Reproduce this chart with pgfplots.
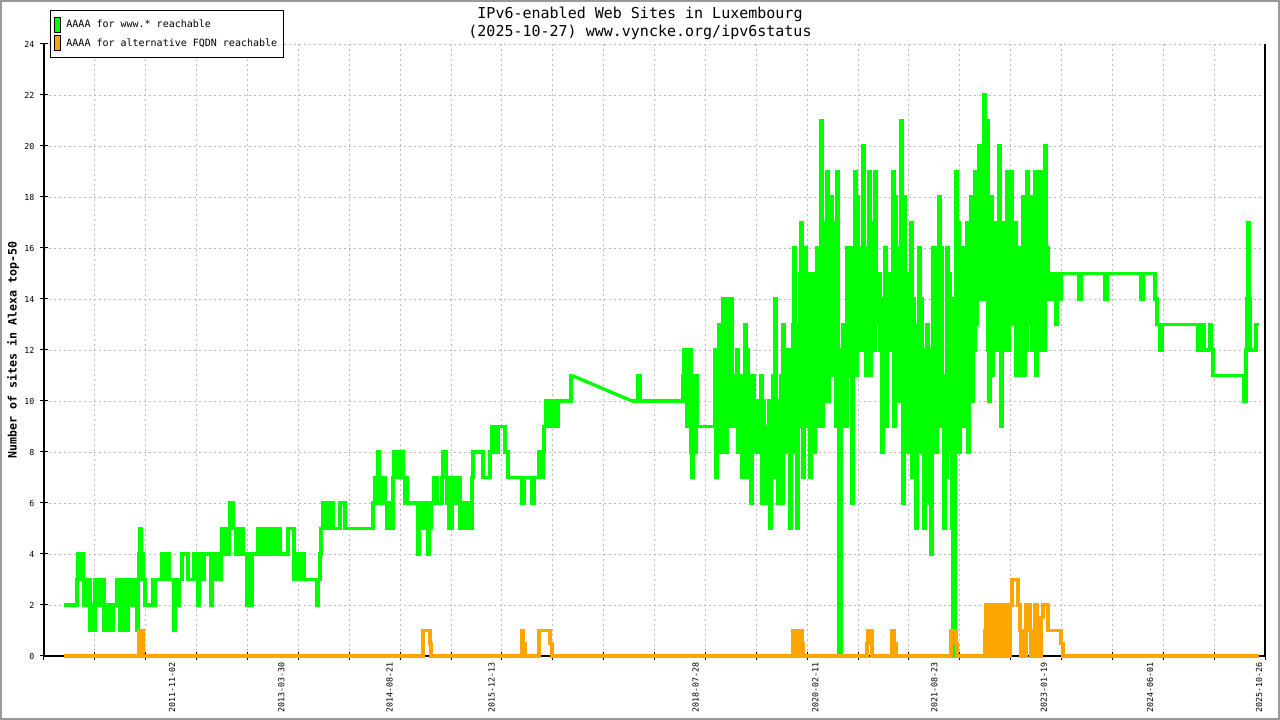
\documentclass[border=0pt]{standalone}
\usepackage{fontspec}
\setmainfont{DejaVu Sans Mono}
\usepackage{pgfplots}
\pgfplotsset{compat=1.18}
\definecolor{lgreen}{HTML}{00FF00}
\definecolor{lorange}{HTML}{FFA500}
\definecolor{gridgray}{HTML}{BBBBBB}
\begin{document}
\begin{tikzpicture}
\begin{axis}[
  scale only axis, width=1221pt, height=612pt,
  xmin=44, xmax=1265, ymin=0, ymax=24,
  clip=false,
  axis line style={draw=none},
  xtick={44,94.875,145.75,196.625,247.5,298.375,349.25,400.125,451,501.875,552.75,603.625,654.5,705.375,756.25,807.125,858,908.875,959.75,1010.625,1061.5,1112.375,1163.25,1214.125,1265},
  xticklabels={},
  ytick={0,2,...,24},
  xtick pos=bottom, ytick pos=left,
  tick align=center,
  major tick length=8pt,
  tick style={black, line width=1pt},
  grid=major,
  major grid style={dash pattern=on 2pt off 3pt, color=gridgray, line width=0.8pt},
  /pgf/number format/assume math mode=true,
  tick label style={font=\fontsize{8.3}{10}\selectfont},
  yticklabel style={xshift=-2pt},
  extra x ticks={172,281.4,389.7,491.7,695.6,815.4,934.4,1043.8,1150,1259},
  extra x tick labels={2011-11-02,2013-03-30,2014-08-21,2015-12-13,2018-07-28,2020-02-11,2021-08-23,2023-01-19,2024-06-01,2025-10-26},
  extra x tick style={grid=none, major tick length=0pt, xticklabel style={rotate=90, anchor=east, xshift=-3pt}},
  legend style={at={(axis cs:50,25.333)}, anchor=north west, draw=black, line width=0.8pt,
    font=\fontsize{10}{12}\selectfont, inner xsep=4pt, inner ysep=6.5pt, row sep=2.5pt, cells={anchor=west}},
]
% picture frame (image pixels: x = data x, y = (656 - py)/25.5)
\draw[black!40, line width=2pt] (axis cs:1,25.686) rectangle (axis cs:1279,-2.4706);
\node[font=\fontsize{15}{18}\selectfont] at (axis cs:640,25.176) {IPv6-enabled Web Sites in Luxembourg};
\node[font=\fontsize{15}{18}\selectfont] at (axis cs:640,24.471) {(2025-10-27) www.vyncke.org/ipv6status};
\node[font=\fontsize{11.6}{14}\selectfont\bfseries, rotate=90] at (axis cs:13,12) {Number of sites in Alexa top-50};
\draw[black, line width=1.2pt] (rel axis cs:0,1) -- (rel axis cs:0,0) -- (rel axis cs:1,0) -- (rel axis cs:1,1);
% AAAA for www.* reachable
\addplot[const plot, color=lgreen, line width=3.3pt,
  legend image code/.code={\filldraw[fill=lgreen, draw=black, line width=0.8pt] (2pt,-7.5pt) rectangle (8pt,7.5pt); \path (10pt,0pt);}]
coordinates {
(64,2) (77,3) (78,4) (79,3) (80,4) (81,3) (82,4) (83,3) (84,2) (85,3) (86,2) (87,3) (88,2) (89,3)
(90,1) (91,2) (92,1) (93,2) (94,1) (95,3) (96,2) (97,3) (98,2) (99,3) (101,2) (102,3)
(104,1) (105,2) (106,1) (107,2) (108,1) (109,2) (110,1) (111,2) (112,1) (113,2)
(117,3) (118,2) (119,3) (120,1) (121,2) (122,1) (123,3) (124,1) (125,2) (126,3) (127,1) (128,3)
(129,2) (130,3) (131,2) (132,3) (134,2) (135,3) (136,2) (137,1) (138,3) (139,4) (140,5) (141,3)
(142,4) (143,3) (145,2) (153,3) (154,2) (155,3) (162,4) (164,3) (168,4) (169,3) (174,1) (175,3)
(176,2) (177,3) (178,2) (179,3) (182,4) (188,3) (194,4) (197,3) (198,2) (199,4) (200,3) (201,4)
(202,3) (204,4) (211,2) (212,3) (213,4) (214,3) (215,4) (216,3) (217,4) (218,3) (219,4) (220,3)
(221,4) (222,5) (223,4) (225,5) (226,4) (229,5) (230,6) (231,5) (232,6) (233,5) (236,4) (239,5)
(243,4) (247,2) (248,4) (249,2) (250,3) (251,2) (252,4) (258,5) (259,4) (260,5) (262,4) (263,5)
(265,4) (266,5) (268,4) (269,5) (271,4) (272,5) (274,4) (275,5) (277,4) (278,5) (280,4) (288,5)
(294,3) (295,4) (296,3) (297,4) (298,3) (300,4) (301,3) (303,4) (304,3) (317,2) (318,3) (320,4)
(321,5) (323,6) (324,5) (325,6) (327,5) (328,6) (330,5) (332,6) (333,5) (340,6) (345,5) (373,6)
(375,7) (377,6) (378,8) (379,7) (381,6) (383,7) (385,6) (387,5) (388,6) (389,5) (390,6) (391,5)
(393,7) (394,8) (395,7) (396,8) (397,7) (398,8) (399,7) (400,8) (401,7) (402,8) (403,7) (405,6)
(406,7) (407,6) (418,4) (419,5) (420,6) (421,5) (422,6) (423,5) (425,6) (426,5) (428,4) (429,6)
(430,5) (431,6) (434,7) (437,6) (442,7) (443,8) (444,7) (445,8) (446,7) (447,6) (448,7) (449,5)
(452,7) (456,6) (457,7) (460,5) (461,6) (462,5) (463,6) (464,5) (465,6) (466,5) (468,6) (470,5)
(472,7) (473,8) (483,7) (490,8) (492,9) (493,8) (494,9) (495,8) (496,9) (497,8) (498,9) (505,8)
(508,7) (522,6) (524,7) (532,6) (534,7) (539,8) (540,7) (541,8) (542,7) (543,8) (544,9) (546,10)
(547,9) (548,10) (549,9) (550,10) (551,9) (552,10) (554,9) (558,10) (571,11) (572,11)
};
\addlegendentry{AAAA for www.* reachable}
\addplot[sharp plot, color=lgreen, line width=3.3pt, forget plot] coordinates {(572,11) (632,10)};
\addplot[const plot, color=lgreen, line width=3.3pt, forget plot] coordinates {
(632,10) (638,11) (640,10) (683,11) (684,12) (685,11) (686,12) (687,9) (688,11) (689,9) (690,12)
(691,8) (692,7) (693,11) (694,9) (695,8) (696,11) (697,9)
(715,12) (716,7) (717,10) (718,8) (719,13) (720,9) (721,12) (722,8) (723,14) (724,9) (725,13) (726,8)
(727,14) (728,10) (729,12) (730,9) (731,14) (732,10) (733,11) (734,9) (735,11) (736,10)
(737,12) (738,8) (739,11) (740,9) (741,11) (742,7) (743,10) (744,8) (745,13) (746,7) (747,12) (748,9)
(749,11) (750,8) (751,6) (752,10) (753,11) (754,8) (755,10) (756,9) (757,10) (758,8) (759,10) (760,9)
(761,11) (762,6) (763,10) (764,8) (765,9) (766,6) (767,9) (768,7) (769,10) (770,5) (771,9) (772,7)
(773,11) (774,7) (775,14) (776,8) (777,10) (778,6) (779,9) (780,7) (781,11) (782,6) (783,13) (784,8)
(785,12) (786,8) (787,11) (788,9) (789,12) (790,5) (791,11) (792,8) (793,13) (794,16) (795,8) (796,12)
(797,5) (798,13) (799,9) (800,15) (801,17) (802,9) (803,7) (804,14) (805,16) (806,9) (807,14) (808,10)
(809,15) (810,7) (811,14) (812,9) (813,15) (814,8) (815,14) (816,10) (817,16) (818,9) (819,15) (820,11)
(821,21) (822,9) (823,17) (824,10) (825,16) (826,11) (827,19) (828,10) (829,17) (830,12)
(831,18) (832,11) (833,17) (834,12) (835,17) (836,9) (837,19) (838,12) (839,0) (841,11)
(842,9) (843,13) (844,10) (845,12) (846,9) (847,16) (848,11) (849,15) (850,12) (851,16) (852,6) (853,14) (854,11)
(855,19) (856,11) (857,18) (858,12) (859,16) (860,12) (861,15) (862,13) (863,20) (864,12)
(865,16) (866,11) (867,15) (868,12) (869,19) (870,11) (871,17) (872,12) (873,17) (874,12) (875,19) (876,13)
(877,15) (878,13) (879,15) (880,12) (881,14) (882,8) (883,13) (884,9) (885,16) (886,9) (887,15) (888,12)
(889,15) (890,12) (891,14) (892,12) (893,19) (894,9) (895,18) (896,12) (897,16) (898,10) (899,15) (900,12)
(901,21) (902,12) (903,6) (904,18) (905,8) (906,15) (907,15) (908,8) (909,14) (910,10)
(911,17) (912,7) (913,14) (914,9) (915,13) (916,5) (917,12) (918,8) (919,16) (920,8) (921,14) (922,10)
(923,12) (924,5) (925,11) (926,6) (927,13) (928,7) (929,12) (930,8) (931,4) (932,12) (933,16) (934,8)
(935,16) (936,8) (937,15) (938,10) (939,18) (940,9) (941,16) (942,10) (943,11) (944,5) (945,10) (946,7)
(947,16) (948,8) (949,15) (950,10) (951,14) (952,5) (953,0) (955,10) (956,19) (957,10) (958,17)
(959,8) (960,16) (961,9) (962,15) (963,9) (964,16) (965,10) (966,14) (967,17) (968,8) (969,16) (970,10)
(971,18) (972,10) (973,17) (974,12) (975,19) (976,13) (977,18) (978,14) (979,20) (980,14) (981,19) (982,15)
(983,20) (984,22) (985,14) (986,21) (987,21) (988,12) (989,10) (990,17) (991,18) (992,11) (993,17) (994,13)
(995,17) (996,12) (997,16) (998,13) (999,20) (1000,13) (1001,9) (1002,16) (1003,17) (1004,12) (1005,16) (1006,13)
(1007,19) (1008,12) (1009,18) (1010,13) (1011,19) (1012,13) (1013,17) (1014,14) (1015,17) (1016,11) (1017,16) (1018,12)
(1019,16) (1020,11) (1021,15) (1022,12) (1023,18) (1024,11) (1025,16) (1026,12) (1027,19) (1028,13) (1029,18) (1030,14)
(1031,18) (1032,12) (1033,17) (1034,13) (1035,19) (1036,11) (1037,18) (1038,12) (1039,19) (1040,12) (1041,18) (1042,13)
(1043,19) (1044,12) (1045,20) (1046,14) (1047,16) (1048,14) (1049,15) (1050,14) (1051,15) (1052,14) (1053,15) (1054,14)
(1055,15) (1056,13) (1057,15) (1058,14) (1059,15) (1060,14) (1061,15)
(1079,14) (1081,15) (1105,14) (1107,15) (1141,14) (1143,15) (1155,14) (1157,13) (1160,12) (1162,13)
(1198,12) (1200,13) (1201,12) (1203,13) (1204,12) (1210,13) (1211,12) (1213,11) (1244,10) (1246,12)
(1247,14) (1248,17) (1249,14) (1250,12) (1256,13) (1259,13)
};
% AAAA for alternative FQDN reachable
\addplot[const plot, color=lorange, line width=3.3pt,
  legend image code/.code={\filldraw[fill=lorange, draw=black, line width=0.8pt] (2pt,-7.5pt) rectangle (8pt,7.5pt); \path (10pt,0pt);}]
coordinates {
(64,0) (139,1) (143,0) (423,1) (430,0.5) (431,0) (522,1) (523,0.5) (525,0) (539,1) (550,0.5) (552,0)
(793,1) (796,0) (800,1) (802,0.5) (803,0) (867,0.5) (868,1) (872,0) (892,1) (894,0.5) (896,0)
(951,1) (956,0.5) (957,0) (985,1) (986,2) (988,1) (989,0) (990,2) (992,1) (993,2) (994,0) (995,2)
(996,1) (997,0) (1000,2) (1001,1) (1002,2) (1003,0) (1004,2) (1005,1) (1006,2) (1007,0) (1008,1)
(1009,0) (1010,2) (1012,3) (1018,2) (1020,1) (1021,0) (1022,1) (1023,0) (1024,1) (1025,0) (1026,2)
(1027,1) (1028,2) (1030,1) (1031,0) (1032,1) (1033,0) (1035,2) (1037,1) (1038,0) (1039,1) (1040,0)
(1041,1.5) (1043,2) (1048,1) (1061,0.5) (1063,0) (1259,0)
};
\addlegendentry{AAAA for alternative FQDN reachable}
\end{axis}
\end{tikzpicture}
\end{document}
